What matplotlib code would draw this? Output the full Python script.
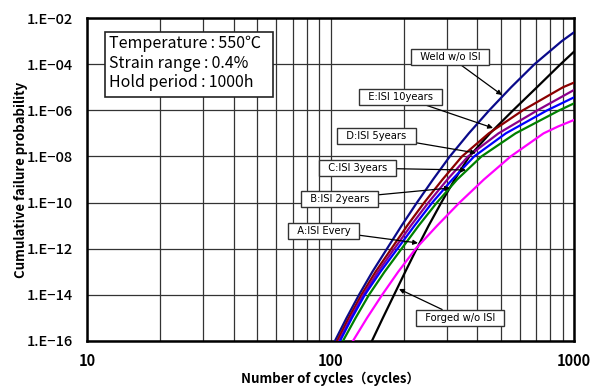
import matplotlib
matplotlib.use("Agg")
import matplotlib.pyplot as plt
from matplotlib.patches import Rectangle
from matplotlib.ticker import FixedLocator, NullFormatter

plt.rcParams['font.family'] = ['Noto Sans CJK JP', 'DejaVu Sans']

# Data: log10(cycles) at given log10(probability)
weld_p = [-16, -15, -14, -13, -12, -11, -10, -9, -8, -7, -6, -5, -4, -3, -2.62]
weld_n = [2.018, 2.066, 2.117, 2.172, 2.232, 2.292, 2.355, 2.421, 2.490, 2.568, 2.652, 2.742, 2.838, 2.950, 3.0]

e10_p = [-16, -15, -14, -13, -12, -11, -10, -9, -8, -7, -6, -5, -4.80]
e10_n = [2.027, 2.075, 2.127, 2.185, 2.250, 2.315, 2.385, 2.460, 2.540, 2.650, 2.790, 2.955, 3.0]

d5_p = [-16, -15, -14, -13, -12, -11, -10, -9, -8, -7, -6, -5.12]
d5_n = [2.035, 2.083, 2.135, 2.195, 2.262, 2.330, 2.402, 2.480, 2.565, 2.690, 2.850, 3.0]

c3_p = [-16, -15, -14, -13, -12, -11, -10, -9, -8, -7, -6, -5.44]
c3_n = [2.039, 2.088, 2.141, 2.205, 2.275, 2.345, 2.418, 2.500, 2.590, 2.720, 2.890, 3.0]

b2_p = [-16, -15, -14, -13, -12, -11, -10, -9, -8, -7, -6, -5.70]
b2_n = [2.051, 2.103, 2.158, 2.222, 2.292, 2.362, 2.437, 2.520, 2.620, 2.760, 2.940, 3.0]

a_p = [-16, -15, -14, -13, -12, -11, -10, -9, -8, -7, -6.7, -6.42]
a_n = [2.092, 2.150, 2.212, 2.278, 2.350, 2.438, 2.530, 2.630, 2.740, 2.875, 2.935, 3.0]

forged_p = [-16, -15, -14, -13, -12, -11, -10, -9, -8, -7, -6, -5, -4, -3.46]
forged_n = [2.170, 2.215, 2.261, 2.307, 2.354, 2.403, 2.455, 2.510, 2.570, 2.655, 2.750, 2.848, 2.945, 3.0]

series = [
    (weld_n, weld_p, '#0a0a8a'),
    (forged_n, forged_p, '#000000'),
    (e10_n, e10_p, '#8b0000'),
    (d5_n, d5_p, '#8b008b'),
    (c3_n, c3_p, '#0000ff'),
    (b2_n, b2_p, '#008000'),
    (a_n, a_p, '#ff00ff'),
]

ytick_exp = [-2, -4, -6, -8, -10, -12, -14, -16]
ytick_labels = ['1.E\u221202', '1.E\u221204', '1.E\u221206', '1.E\u221208',
                '1.E\u221210', '1.E\u221212', '1.E\u221214', '1.E\u221216']
xtick_vals = [10, 100, 1000]
xtick_labels = ['10', '100', '1000']

fig = plt.figure(figsize=(5.95, 3.88), dpi=100)
ax = fig.add_axes([87/595, 1-341/388, (574-87)/595, (341-18)/388])
ax.set_xscale('log')
ax.set_yscale('log')
ax.set_xlim(10, 1000)
ax.set_ylim(1e-16, 1e-2)

for n, p, c in series:
    ax.plot([10**v for v in n], [10**v for v in p], color=c, lw=1.6, zorder=3)

ax.xaxis.set_major_locator(FixedLocator(xtick_vals))
minors = [m * d for d in (10, 100) for m in range(2, 10)]
ax.xaxis.set_minor_locator(FixedLocator(minors))
ax.xaxis.set_minor_formatter(NullFormatter())
ax.set_xticklabels(xtick_labels, fontsize=10.5, fontweight='bold')
ax.yaxis.set_major_locator(FixedLocator([10**e for e in ytick_exp]))
ax.yaxis.set_minor_locator(FixedLocator([]))
ax.set_yticklabels(ytick_labels, fontsize=10.5, fontweight='medium')
ax.tick_params(axis='both', which='both', length=0)
ax.tick_params(axis='y', pad=10)
ax.tick_params(axis='x', pad=9)
ax.grid(True, which='both', axis='x', color='#333333', lw=0.9)
ax.grid(True, which='major', axis='y', color='#333333', lw=0.9)
for s in ax.spines.values():
    s.set_linewidth(1.8)
    s.set_color('black')

ax.set_xlabel('Number of cycles\uff08cycles\uff09', fontsize=9.5, fontweight='bold')
ax.xaxis.set_label_coords(0.5, -0.095)
ax.set_ylabel('Cumulative failure probability', fontsize=9.5, fontweight='bold')
ax.yaxis.set_label_coords(-0.122, 0.5)

# info box
fig.patches.append(Rectangle((105/595, 1-97/388), (273-105)/595, (97-32)/388,
                             transform=fig.transFigure, fc='white', ec='#222222',
                             lw=1.2, zorder=5))
fig.text(109/595, 1-35/388,
         'Temperature\u2009:\u2009550\u2103\nStrain range\u2009:\u20090.4%\nHold period\u2009:\u20091000h',
         fontsize=11.5, va='top', ha='left', linespacing=1.2, zorder=6)

labels = [
    ('Weld w/o ISI', (450, 57), (502, 95)),
    ('E:ISI 10years', (400.5, 96.5), (493, 128)),
    ('D:ISI 5years', (376.5, 136), (476, 153)),
    ('C:ISI 3years', (357.5, 168), (466, 170)),
    ('B:ISI 2years', (339.5, 198.5), (450, 188)),
    ('A:ISI Every', (323.5, 230.5), (418, 243)),
    ('Forged w/o ISI', (460, 318), (399, 289)),
]
for txt, (tx, ty), (px, py) in labels:
    ax.annotate('  ' + txt + '  ', xy=(px, 388 - py), xycoords='figure pixels',
                xytext=(tx, 388 - ty), textcoords='figure pixels',
                fontsize=7.2, ha='center', va='center', family='DejaVu Sans',
                bbox=dict(boxstyle='square,pad=0.3', fc='white', ec='#333333', lw=1.0),
                arrowprops=dict(arrowstyle='-|>', color='black', lw=0.9,
                                mutation_scale=7, shrinkA=0, shrinkB=0),
                zorder=6)

fig.savefig('out.png', dpi=100)
